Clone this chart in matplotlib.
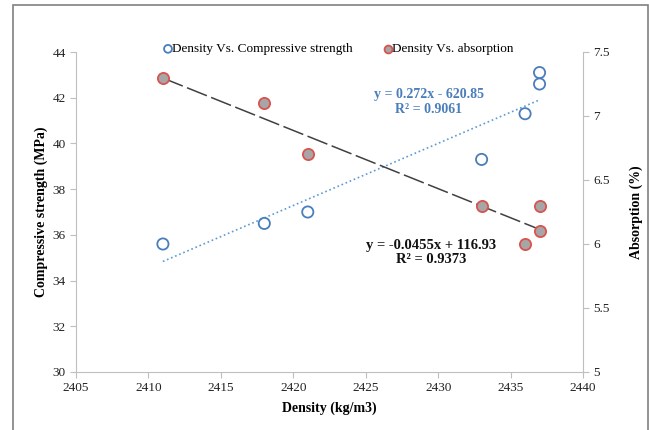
import numpy as np
import matplotlib.pyplot as plt
from matplotlib.patches import Rectangle

# Data
density = [2411, 2418, 2421, 2433, 2436, 2437, 2437]
strength = [35.6, 36.5, 37.0, 39.3, 41.3, 42.6, 43.1]
dens_abs = [2411, 2418, 2421, 2433, 2436, 2437, 2437]
absorption = [7.3, 7.1, 6.7, 6.3, 6.0, 6.3, 6.1]

plt.rcParams['font.family'] = ['Liberation Serif', 'DejaVu Serif']
blue = '#4a7ebb'
red = '#d9534f'
spine_col = '#bfbfbf'

fig = plt.figure(figsize=(6.49, 4.30), dpi=100)
ax = fig.add_axes([76/649, 1-372/430, (583-76)/649, (372-52)/430])
ax2 = ax.twinx()

# Frame around the figure
fig.patches.append(Rectangle((13/649, -0.1), (648-13)/649, 1.1-5/430,
                             transform=fig.transFigure, fill=False,
                             edgecolor='#808080', linewidth=1.2))

# Strength series + linear trendline
ax.scatter(density, strength, s=65, facecolors='none', edgecolors=blue,
           linewidths=1.3, zorder=3, label='Density Vs. Compressive strength')
xs = np.array([min(density), max(density)])
ax.plot(xs, np.polyval(np.polyfit(density, strength, 1), xs), color='#5b9bd5',
        linestyle=':', linewidth=1.2, zorder=2)

# Absorption series + linear trendline
ax2.scatter(dens_abs, absorption, s=65, facecolors='#a6a6a6', edgecolors=red,
            linewidths=1.3, zorder=3, label='Density Vs. absorption')
xa = np.array([min(dens_abs), max(dens_abs)])
ax2.plot(xa, np.polyval(np.polyfit(dens_abs, absorption, 1), xa), color='#404040',
         linestyle=(0, (14, 3)), linewidth=1.1, zorder=2)

ax.set_xlim(2405, 2440)
ax.set_ylim(30, 44)
ax2.set_ylim(5, 7.5)
ax.set_xticks(np.arange(2405, 2441, 5))
ax.set_yticks(np.arange(30, 45, 2))
ax2.set_yticks([5, 5.5, 6, 6.5, 7, 7.5])
ax2.set_yticklabels(['5', '5.5', '6', '6.5', '7', '7.5'])

for a in (ax, ax2):
    a.spines['top'].set_visible(False)
    for s in ('left', 'right', 'bottom'):
        a.spines[s].set_color(spine_col)
    a.tick_params(colors=spine_col, labelcolor='#222222', labelsize=9.5,
                  length=4)
ax.spines['right'].set_visible(False)
ax2.spines['left'].set_visible(False)
ax2.spines['bottom'].set_visible(False)

ax.set_xlabel('Density (kg/m3)', fontweight='bold', fontsize=10, labelpad=5)
ax.set_ylabel('Compressive strength (MPa)', fontweight='bold', fontsize=10,
              labelpad=3)
ax2.set_ylabel('Absorption (%)', fontweight='bold', fontsize=10, labelpad=14)

# Trendline equations
ax.text(0.696, 0.844, 'y = 0.272x - 620.85\nR\u00b2 = 0.9061', transform=ax.transAxes,
        color=blue, fontweight='bold', fontsize=10, ha='center', va='center',
        linespacing=1.15)
ax.text(0.70, 0.372, 'y = -0.0455x + 116.93\nR\u00b2 = 0.9373', transform=ax.transAxes,
        color='#111111', fontweight='bold', fontsize=10.5, ha='center',
        va='center', linespacing=1.1)

# Legend
h1, l1 = ax.get_legend_handles_labels()
h2, l2 = ax2.get_legend_handles_labels()
ax.legend(h1 + h2, l1 + l2, loc='upper left', bbox_to_anchor=(0.145, 1.065),
          ncol=2, frameon=False, fontsize=9.5, handletextpad=-0.2,
          columnspacing=2.2, markerscale=0.7, handlelength=1.0)

fig.savefig('out.png', dpi=100)
